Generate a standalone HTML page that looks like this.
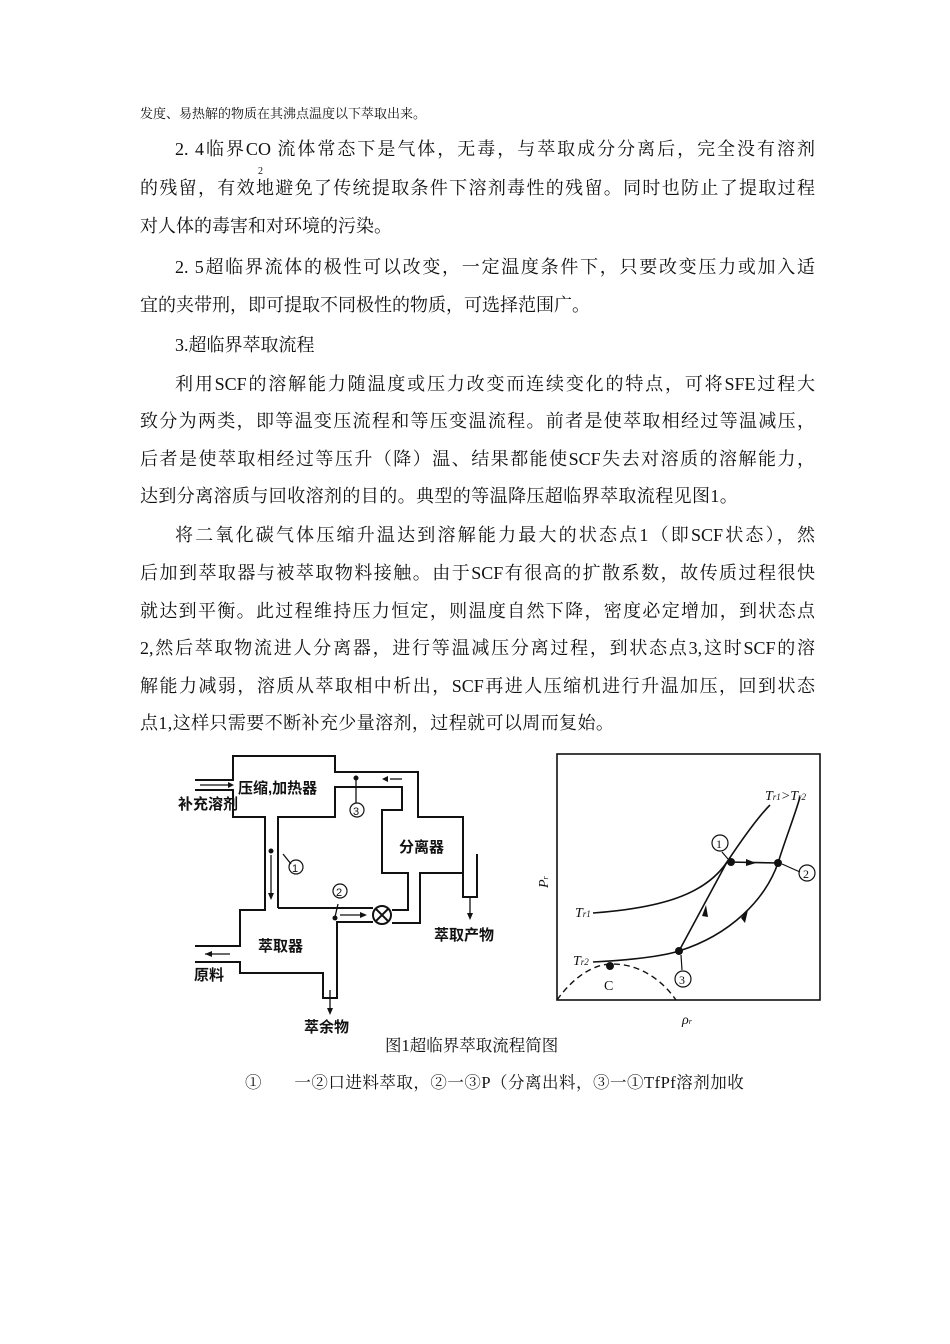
<!DOCTYPE html>
<html><head><meta charset="utf-8"><style>
body{margin:0;background:#fff;width:950px;height:1344px;position:relative;overflow:hidden;font-family:"Liberation Serif","Noto Serif CJK SC",serif;color:#111}
.l{position:absolute;font-size:18px;line-height:20px;white-space:nowrap}
.j{left:140px;width:675px;text-align:justify;text-align-last:justify}
.i{left:175px}
.ij{left:175px;width:640px;text-align:justify;text-align-last:justify}
svg{position:absolute;left:0;top:0}
</style></head><body>
<div class="l" style="left:140px;top:104px;font-size:13px">发度、易热解的物质在其沸点温度以下萃取出来。</div>
<div class="l ij" style="top:139px">2. 4临界CO&nbsp;流体常态下是气体，无毒，与萃取成分分离后，完全没有溶剂</div>
<div class="l" style="left:258px;top:162px;font-size:10px">2</div>
<div class="l j" style="top:178px">的残留，有效地避免了传统提取条件下溶剂毒性的残留。同时也防止了提取过程</div>
<div class="l" style="left:140px;top:216px">对人体的毒害和对环境的污染。</div>
<div class="l ij" style="top:257px">2. 5超临界流体的极性可以改变，一定温度条件下，只要改变压力或加入适</div>
<div class="l" style="left:140px;top:295px">宜的夹带刑，即可提取不同极性的物质，可选择范围广。</div>
<div class="l i" style="top:335px">3.超临界萃取流程</div>
<div class="l ij" style="top:374px">利用SCF的溶解能力随温度或压力改变而连续变化的特点，可将SFE过程大</div>
<div class="l j" style="top:411px">致分为两类，即等温变压流程和等压变温流程。前者是使萃取相经过等温减压，</div>
<div class="l j" style="top:449px">后者是使萃取相经过等压升（降）温、结果都能使SCF失去对溶质的溶解能力，</div>
<div class="l" style="left:140px;top:486px;letter-spacing:0.4px">达到分离溶质与回收溶剂的目的。典型的等温降压超临界萃取流程见图1。</div>
<div class="l ij" style="top:525px">将二氧化碳气体压缩升温达到溶解能力最大的状态点1（即SCF状态），然</div>
<div class="l j" style="top:563px">后加到萃取器与被萃取物料接触。由于SCF有很高的扩散系数，故传质过程很快</div>
<div class="l j" style="top:601px">就达到平衡。此过程维持压力恒定，则温度自然下降，密度必定增加，到状态点</div>
<div class="l j" style="top:638px">2,然后萃取物流进人分离器，进行等温减压分离过程，到状态点3,这时SCF的溶</div>
<div class="l j" style="top:676px">解能力减弱，溶质从萃取相中析出，SCF再进人压缩机进行升温加压，回到状态</div>
<div class="l" style="left:140px;top:713px;letter-spacing:0.4px">点1,这样只需要不断补充少量溶剂，过程就可以周而复始。</div>
<div class="l" style="left:385px;top:1036px;font-size:16.5px">图1超临界萃取流程简图</div>
<div class="l" style="left:245px;top:1073px;font-size:16.5px;letter-spacing:0.5px">①&nbsp;&nbsp;&nbsp;&nbsp;&nbsp;&nbsp;&nbsp;一②口进料萃取，②一③P（分离出料，③一①TfPf溶剂加收</div>

<svg width="950" height="1344" viewBox="0 0 950 1344" fill="none" stroke="#111" stroke-width="2" font-family="Liberation Sans,Noto Sans CJK SC,sans-serif">
<polyline points="195,780 233,780 233,756 335,756 335,772 418,772 418,817 463,817 463,855"/>
<polyline points="195,790 233,790 233,817 265,817 265,910 240,910 240,946 195,946"/>
<polyline points="195,962 240,962 240,973 323,973 323,998 337,998 337,973 337,922 373,922"/>
<polyline points="278,908 278,817 335,817 335,787 402,787 402,810 382,810 382,873 408,873 408,910 392,910"/>
<polyline points="278,908 373,908"/>
<polyline points="392,923 420,923 420,873 463,873 463,855"/>
<polyline points="463,855 463,897 477,897 477,855 477,854"/>
<circle cx="382" cy="915" r="9"/>
<line x1="376" y1="909" x2="388" y2="921"/><line x1="388" y1="909" x2="376" y2="921"/>
<g stroke-width="1.3">
<line x1="200" y1="785" x2="228" y2="785"/><line x1="390" y1="779" x2="402" y2="779"/>
<line x1="271" y1="855" x2="271" y2="895"/><line x1="340" y1="915" x2="362" y2="915"/>
<line x1="205" y1="954" x2="230" y2="954"/><line x1="330" y1="990" x2="330" y2="1010"/><line x1="470" y1="897" x2="470" y2="915"/>
<line x1="283" y1="854" x2="291" y2="864"/><line x1="335" y1="917" x2="338" y2="904"/><line x1="356" y1="777" x2="356" y2="803"/>
</g>
<g fill="#111" stroke="none">
<path d="M228,782 L234,785 228,788Z"/><path d="M388,776 L382,779 388,782Z"/><path d="M268,893 L271,900 274,893Z"/>
<path d="M360,912 L367,915 360,918Z"/><path d="M212,951 L205,954 212,957Z"/><path d="M327,1008 L330,1015 333,1008Z"/><path d="M467,913 L470,920 473,913Z"/>
<circle cx="271" cy="851" r="2.5"/><circle cx="335" cy="918" r="2.5"/><circle cx="356" cy="778" r="2.5"/>
</g>
<g stroke-width="1.2" font-size="13" fill="#111">
<circle cx="296" cy="867" r="7" fill="none"/><text x="292" y="872" stroke="none" font-size="11">1</text>
<circle cx="340" cy="891" r="7" fill="none"/><text x="336" y="896" stroke="none" font-size="11">2</text>
<circle cx="357" cy="810" r="7" fill="none"/><text x="353" y="815" stroke="none" font-size="11">3</text>
</g>
<g fill="#111" stroke="none" font-size="15" font-weight="bold">
<text x="238" y="793">压缩,加热器</text><text x="178" y="809">补充溶剂</text>
<text x="399" y="852">分离器</text><text x="258" y="951">萃取器</text>
<text x="194" y="980">原料</text><text x="434" y="940">萃取产物</text><text x="304" y="1032">萃余物</text>
</g>
<rect x="557" y="754" width="263" height="246" stroke-width="1.6"/>
<path d="M593,913 C660,908 705,895 727,862 C745,835 760,815 770,805" stroke-width="1.6"/>
<path d="M593,962 C630,960 660,957 679,951 C730,935 765,900 778,863 C785,840 795,815 800,797" stroke-width="1.6"/>
<path d="M679,951 L727,862 L778,863" stroke-width="1.6"/>
<path d="M557,1000 C575,975 595,964 612,964 C640,964 662,980 676,1000" stroke-width="1.4" stroke-dasharray="6,4"/>
<g fill="#111" stroke="none">
<circle cx="731" cy="862" r="4"/><circle cx="778" cy="863" r="4"/><circle cx="679" cy="951" r="4"/><circle cx="610" cy="966" r="4"/>
<path d="M746,859 L756,863 746,866Z"/><path d="M702,916 L706,905 708,917Z"/><path d="M741,918 L748,910 745,923Z"/>
</g>
<g stroke-width="1.2">
<line x1="722" y1="852" x2="728" y2="859"/><line x1="782" y1="864" x2="800" y2="872"/><line x1="681" y1="955" x2="682" y2="970"/>
<circle cx="720" cy="843" r="8"/><circle cx="807" cy="873" r="8"/><circle cx="683" cy="979" r="8"/>
</g>
<g fill="#111" stroke="none" font-family="Liberation Serif,serif" font-style="italic" font-size="14">
<text x="716" y="848" font-style="normal" font-size="12">1</text><text x="803" y="878" font-style="normal" font-size="12">2</text><text x="679" y="984" font-style="normal" font-size="12">3</text>
<text x="765" y="800">T<tspan font-size="9">r1</tspan>&gt;T<tspan font-size="9">r2</tspan></text>
<text x="575" y="917">T<tspan font-size="9">r1</tspan></text>
<text x="573" y="965">T<tspan font-size="9">r2</tspan></text>
<text x="604" y="990" font-style="normal">C</text>
<text x="682" y="1024">ρ<tspan font-size="8">r</tspan></text>
<text x="548" y="888" transform="rotate(-90 548 888)">P<tspan font-size="8">r</tspan></text>
</g>
</svg>
</body></html>
